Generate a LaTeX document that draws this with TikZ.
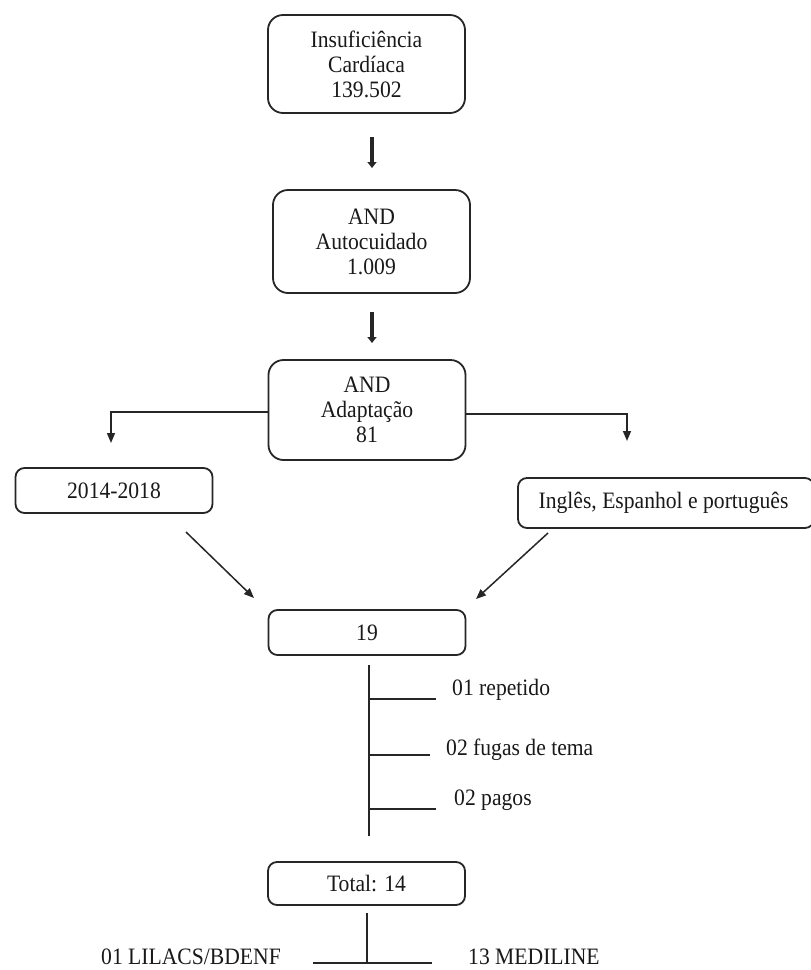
\documentclass[tikz,border=0pt]{standalone}
\usepackage{fontspec}
\setmainfont[FakeStretch=0.92]{Liberation Serif}
\usetikzlibrary{arrows.meta}
\begin{document}
\begin{tikzpicture}[x=1pt,y=-1pt,
  every node/.style={font=\fontsize{23.5}{25}\selectfont, text=black!90},
  box/.style={draw=black!85, line width=1.8pt, rounded corners=#1, align=center,
              inner sep=0pt, fill=white},
  box/.default=9pt,
  stub/.style={draw=black!85, line width=3.6pt, -{Triangle[length=6pt,width=9pt]}},
  arr/.style={draw=black!85, line width=1.5pt, -{Triangle[length=10pt,width=8pt]}},
  tie/.style={draw=black!85, line width=1.5pt},
  lab/.style={anchor=west, inner sep=0pt}]
\useasboundingbox (0,0) rectangle (811,970);

% main chain of searches
\node[box=15pt, minimum width=197pt, minimum height=98pt] (b1) at (366.5,64)
  {Insuficiência\\Cardíaca\\139.502};
\node[box=15pt, minimum width=197pt, minimum height=103pt] (b2) at (371.5,241.5)
  {AND\\Autocuidado\\1.009};
\node[box=15pt, minimum width=197pt, minimum height=100pt] (b3) at (367,410)
  {AND\\Adaptação\\81};

% filters
\node[box, minimum width=197pt, minimum height=45pt] (b4) at (114,490.5) {2014-2018};
\node[box, minimum width=296pt, minimum height=50pt] (b5) at (666,503)
  {\hspace*{-5pt}Inglês, Espanhol e português};

% results
\node[box, minimum width=197pt, minimum height=45pt] (b6) at (367,632.5) {19};
\node[box, minimum width=197pt, minimum height=43pt] (b7) at (366.5,883.5) {Total: 14};

% stub arrows between the first boxes
\coordinate (s1a) at (372,137); \coordinate (s1b) at (372,168);
\coordinate (s2a) at (372,312); \coordinate (s2b) at (372,343);
\draw[stub] (s1a) -- (s1b);
\draw[stub] (s2a) -- (s2b);

% split towards the filters
\coordinate (l1) at (111,443);
\coordinate (r1) at (627,441);
\draw[arr] ([yshift=-2pt]b3.west) -| (l1);
\draw[arr] ([yshift=-4pt]b3.east) -| (r1);

% filters converging on the result
\coordinate (d1a) at (186,532); \coordinate (d1b) at (254,598);
\coordinate (d2a) at (548,533); \coordinate (d2b) at (476,599);
\draw[arr] (d1a) -- (d1b);
\draw[arr] (d2a) -- (d2b);

% exclusions
\coordinate (v1) at (369,665); \coordinate (v2) at (369,836);
\draw[tie] (v1) -- (v2);
\coordinate (e1) at (369,699); \coordinate (e1t) at (436,699);
\coordinate (e2) at (369,755); \coordinate (e2t) at (430,755);
\coordinate (e3) at (369,809); \coordinate (e3t) at (436,809);
\draw[tie] (e1) -- (e1t);
\draw[tie] (e2) -- (e2t);
\draw[tie] (e3) -- (e3t);
\node[lab] (x1) at (452,690) {01 repetido};
\node[lab] (x2) at (446,750) {02 fugas de tema};
\node[lab] (x3) at (454,800) {02 pagos};

% distribution by database
\coordinate (w1) at (367,913); \coordinate (w2) at (367,963);
\coordinate (h1) at (313,963); \coordinate (h2) at (432,963);
\draw[tie] (w1) -- (w2);
\draw[tie] (h1) -- (h2);
\node[lab] (db1) at (101,957) {01 LILACS/BDENF};
\node[lab] (db2) at (468,957) {13 MEDILINE};
\end{tikzpicture}
\end{document}
